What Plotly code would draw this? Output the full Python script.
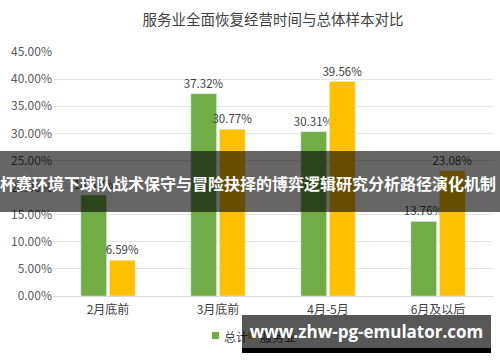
import plotly.graph_objects as go

categories = ["2月底前", "3月底前", "4月-5月", "6月及以后"]
total_vals = [18.61, 37.32, 30.31, 13.76]
service_vals = [6.59, 30.77, 39.56, 23.08]
series_names = ["总计", "服务业"]
series_colors = ["#70AD47", "#FFC000"]
y_ticks = [0, 5, 10, 15, 20, 25, 30, 35, 40, 45]
y_tick_labels = [f"{v:.2f}%" for v in y_ticks]
title_text = "服务业全面恢复经营时间与总体样本对比"
banner_text = "杯赛环境下球队战术保守与冒险抉择的博弈逻辑研究分析路径演化机制"
watermark_text = "www.zhw-pg-emulator.com"

W, H = 500, 362
L, R, T, B = 53, 7, 52, 66
PW = W - L - R
PH = H - T - B


def px(x):
    return (x - L) / PW


def py(y):
    return (H - B - y) / PH


FONT = "Noto Sans CJK SC, Noto Sans, sans-serif"

fig = go.Figure()
for name, vals, col in zip(series_names, [total_vals, service_vals], series_colors):
    fig.add_trace(go.Bar(
        x=categories, y=vals, name=name,
        marker=dict(color=col),
        text=[f"{v:.2f}%" for v in vals], textposition="outside",
        textangle=0, constraintext="none",
        textfont=dict(size=11.5, color="#404040"), cliponaxis=False,
        showlegend=False,
    ))

fig.update_layout(
    width=W, height=H,
    margin=dict(l=L, r=R, t=T, b=B),
    paper_bgcolor="white", plot_bgcolor="white",
    font=dict(family=FONT, color="#404040"),
    barmode="group", bargap=0.48, bargroupgap=0.1,
    title=dict(text=title_text, x=px(273), xref="paper", xanchor="center",
               y=1 - 20 / H, yanchor="middle",
               font=dict(size=14.5, color="#404040")),
    showlegend=False,
    xaxis=dict(showgrid=False, showline=False, ticks="", ticklabelstandoff=5,
               tickfont=dict(size=12, color="#404040")),
    yaxis=dict(range=[0, 45], tickvals=y_ticks, ticktext=y_tick_labels,
               showgrid=True, gridcolor="#E4E4E4", gridwidth=1,
               zeroline=True, zerolinecolor="#D9D9D9", zerolinewidth=1,
               showline=False, ticks="", ticklen=0,
               tickfont=dict(size=12, color="#595959")),
)

# legend (drawn manually so the watermark can sit on top of it)
legend_sq_x = [212, 248]
legend_txt_x = [222, 258]
for name, col, sx, tx in zip(series_names, series_colors, legend_sq_x, legend_txt_x):
    fig.add_shape(type="rect", xref="paper", yref="paper",
                  x0=px(sx), x1=px(sx + 7), y0=py(339), y1=py(332),
                  fillcolor=col, line=dict(width=0), layer="above")
    fig.add_annotation(text=name, xref="paper", yref="paper",
                       x=px(tx), y=py(336), xanchor="left", yanchor="middle",
                       showarrow=False, font=dict(size=12, color="#404040"))

# dark banner overlay
fig.add_shape(type="rect", xref="paper", yref="paper",
              x0=px(0), x1=px(500), y0=py(212), y1=py(151),
              fillcolor="rgba(0,0,0,0.6)", line=dict(width=0), layer="above")
fig.add_annotation(text="<b>" + banner_text + "</b>", xref="paper", yref="paper",
                   x=px(248), y=py(183), xanchor="center", yanchor="middle",
                   showarrow=False, font=dict(size=16, color="white", family=FONT))

# watermark box
fig.add_shape(type="rect", xref="paper", yref="paper",
              x0=px(242), x1=px(491), y0=py(353), y1=py(348),
              fillcolor="black", line=dict(width=0), layer="above")
fig.add_annotation(text="<b>" + watermark_text + "</b>", xref="paper", yref="paper",
                   x=px(242), y=py(315), xanchor="left", yanchor="top",
                   width=249, height=33, align="center", valign="middle",
                   bgcolor="rgba(0,0,0,0.66)", borderpad=0, borderwidth=0,
                   showarrow=False, font=dict(size=17, color="white", family="Open Sans, sans-serif"))

fig.write_html("out.html", post_script="document.body.style.margin='0';",
               config={"displayModeBar": False})
